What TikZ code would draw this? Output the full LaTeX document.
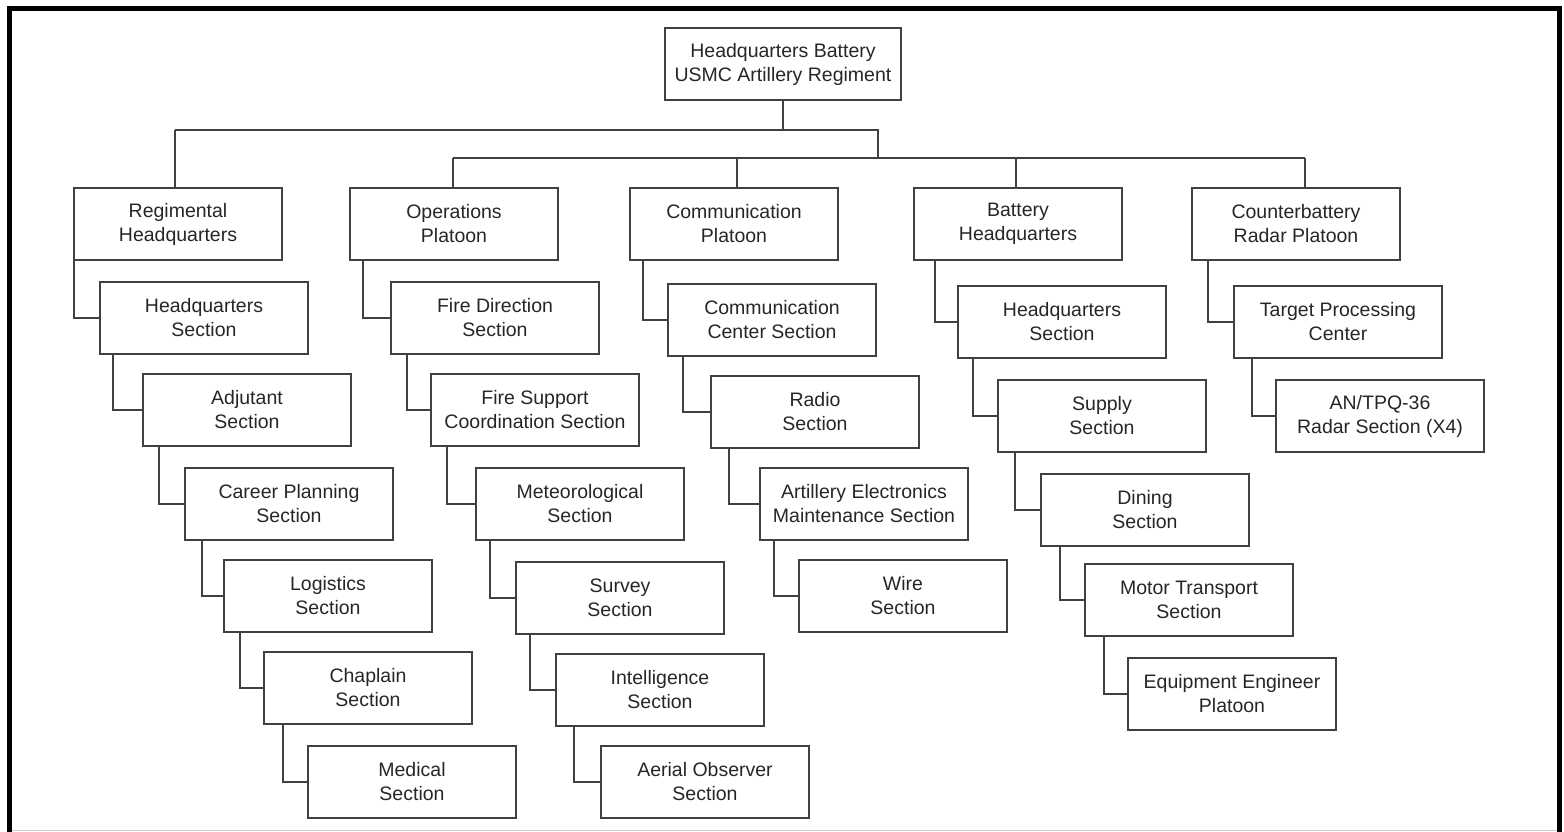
\documentclass[tikz,border=0pt]{standalone}
\usepackage{fontspec}
\setmainfont{Liberation Sans}
\begin{document}
\begin{tikzpicture}[x=1pt,y=-1pt,
  box/.style={draw=black!75, line width=2pt, rectangle, minimum width=208pt, minimum height=72pt,
    inner sep=0pt, outer sep=0pt, align=center, text=black!85,
    font=\fontsize{19.5}{24}\selectfont},
  link/.style={draw=black!75, line width=2pt}]
\useasboundingbox (0,0) rectangle (1564,832);
% frame
\draw[black, line width=5pt] (9,840) -- (9,9) -- (1559.5,9) -- (1559.5,840);
\draw[black!20, line width=1pt] (12,830.5) -- (1557,830.5);

% top
\node[box, minimum width=236pt] (hqb) at (783,64) {Headquarters Battery\\USMC Artillery Regiment};

% level 1
\node[box] (rhq)  at (178,224) {Regimental\\Headquarters};
\node[box] (ops)  at (454,224) {Operations\\Platoon};
\node[box] (comm) at (734,224) {Communication\\Platoon};
\node[box] (bat)  at (1018,224) {Battery\\Headquarters};
\node[box] (cb)   at (1296,224) {Counterbattery\\Radar Platoon};

% regimental column
\node[box] (hqs)  at (204,318) {Headquarters\\Section};
\node[box] (adj)  at (247,410) {Adjutant\\Section};
\node[box] (car)  at (289,504) {Career Planning\\Section};
\node[box] (log)  at (328,596) {Logistics\\Section};
\node[box] (chap) at (368,688) {Chaplain\\Section};
\node[box] (med)  at (412,782) {Medical\\Section};

% operations column
\node[box] (fd)   at (495,318) {Fire Direction\\Section};
\node[box] (fsc)  at (535,410) {Fire Support\\Coordination Section};
\node[box] (met)  at (580,504) {Meteorological\\Section};
\node[box] (sur)  at (620,598) {Survey\\Section};
\node[box] (intl) at (660,690) {Intelligence\\Section};
\node[box] (aer)  at (705,782) {Aerial Observer\\Section};

% communication column
\node[box] (cc)    at (772,320) {Communication\\Center Section};
\node[box] (radio) at (815,412) {Radio\\Section};
\node[box] (aem)   at (864,504) {Artillery Electronics\\Maintenance Section};
\node[box] (wire)  at (903,596) {Wire\\Section};

% battery column
\node[box] (bhs) at (1062,322) {Headquarters\\Section};
\node[box] (sup) at (1102,416) {Supply\\Section};
\node[box] (din) at (1145,510) {Dining\\Section};
\node[box] (mot) at (1189,600) {Motor Transport\\Section};
\node[box] (eq)  at (1232,694) {Equipment Engineer\\Platoon};

% counterbattery column
\node[box] (tpc) at (1338,322) {Target Processing\\Center};
\node[box] (an)  at (1380,416) {AN/TPQ-36\\Radar Section (X4)};

% bus lines
\coordinate (b1L) at (175,130);
\coordinate (b1R) at (878,130);
\coordinate (b2L) at (453,158);
\coordinate (b2R) at (1305,158);
\coordinate (dc) at (737,158);
\coordinate (db) at (1016,158);
\draw[link] (hqb.south) -- (hqb.south |- b1L);
\draw[link] (b1L) -- (b1R) -- (b1R |- b2L);
\draw[link] (b2L) -- (b2R);
\draw[link] (b1L) -- (b1L |- rhq.north);
\draw[link] (b2L) -- (b2L |- ops.north);
\draw[link] (dc) -- (dc |- comm.north);
\draw[link] (db) -- (db |- bat.north);
\draw[link] (b2R) -- (b2R |- cb.north);

% elbow connectors
\draw[link] ([xshift=0pt]rhq.south west) |- (hqs.west);
\draw[link] ([xshift=13pt]hqs.south west) |- (adj.west);
\draw[link] ([xshift=16pt]adj.south west) |- (car.west);
\draw[link] ([xshift=17pt]car.south west) |- (log.west);
\draw[link] ([xshift=16pt]log.south west) |- (chap.west);
\draw[link] ([xshift=19pt]chap.south west) |- (med.west);

\draw[link] ([xshift=13pt]ops.south west) |- (fd.west);
\draw[link] ([xshift=16pt]fd.south west) |- (fsc.west);
\draw[link] ([xshift=16pt]fsc.south west) |- (met.west);
\draw[link] ([xshift=14pt]met.south west) |- (sur.west);
\draw[link] ([xshift=14pt]sur.south west) |- (intl.west);
\draw[link] ([xshift=18pt]intl.south west) |- (aer.west);

\draw[link] ([xshift=13pt]comm.south west) |- (cc.west);
\draw[link] ([xshift=15pt]cc.south west) |- (radio.west);
\draw[link] ([xshift=18pt]radio.south west) |- (aem.west);
\draw[link] ([xshift=14pt]aem.south west) |- (wire.west);

\draw[link] ([xshift=21pt]bat.south west) |- (bhs.west);
\draw[link] ([xshift=15pt]bhs.south west) |- (sup.west);
\draw[link] ([xshift=17pt]sup.south west) |- (din.west);
\draw[link] ([xshift=19pt]din.south west) |- (mot.west);
\draw[link] ([xshift=19pt]mot.south west) |- (eq.west);

\draw[link] ([xshift=16pt]cb.south west) |- (tpc.west);
\draw[link] ([xshift=18pt]tpc.south west) |- (an.west);
\end{tikzpicture}
\end{document}
